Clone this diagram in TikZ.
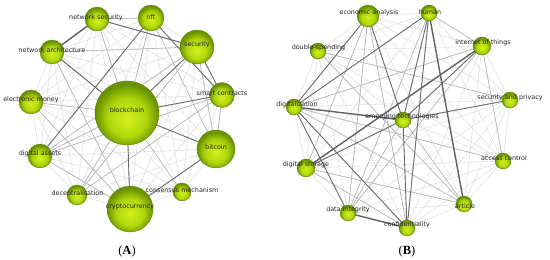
\documentclass[tikz,border=0pt]{standalone}
\usepackage{fontspec}
\setmainfont{Liberation Serif}
\newfontfamily\lblfont{DejaVu Sans}
\usetikzlibrary{backgrounds}
\definecolor{ballin}{RGB}{212,240,30}
\definecolor{ballmid}{RGB}{175,215,12}
\definecolor{ballout}{RGB}{105,145,0}
\definecolor{ballrim}{RGB}{85,122,0}
\definecolor{lbltext}{RGB}{35,35,35}
\pgfdeclareradialshading{ballshade}{\pgfpoint{0bp}{-5bp}}{color(0bp)=(ballin); color(15bp)=(ballmid); color(25bp)=(ballout); color(50bp)=(ballout)}
\tikzset{
  ball/.style={circle, shading=ballshade, draw=ballrim, line width=0.3pt, inner sep=0pt},
  lbl/.style={font=\lblfont\fontsize{6.4}{7}\selectfont, text=lbltext, inner sep=0pt},
  captext/.style={font=\fontsize{12.5}{14}\selectfont, inner sep=0pt},
  lite/.style={draw=gray!22, line width=0.4pt},
  mid/.style={draw=gray!58, line width=0.6pt},
  dark/.style={draw=black!58, line width=0.9pt},
  heavy/.style={draw=black!62, line width=1.4pt}
}
\begin{document}
\begin{tikzpicture}[x=1pt,y=-1pt]
\useasboundingbox (0,0) rectangle (550,260);
% ---------- Panel A nodes ----------
\node[ball, minimum size=24pt] (ns)  at (97,19)  {};
\node[ball, minimum size=26pt] (nft) at (151,18) {};
\node[ball, minimum size=34pt] (sec) at (197,47) {};
\node[ball, minimum size=24pt] (na)  at (52,52)  {};
\node[ball, minimum size=24pt] (em)  at (31,102) {};
\node[ball, minimum size=64pt] (bc)  at (127,113) {};
\node[ball, minimum size=25pt] (sc)  at (222,95) {};
\node[ball, minimum size=24pt] (da)  at (40,156) {};
\node[ball, minimum size=38pt] (btc) at (216,149) {};
\node[ball, minimum size=20pt] (dec) at (77,195) {};
\node[ball, minimum size=46pt] (cc)  at (130,209) {};
\node[ball, minimum size=18pt] (cm)  at (182,192) {};
% ---------- Panel B nodes ----------
\node[ball, minimum size=22pt] (ea)  at (368,16)  {};
\node[ball, minimum size=16pt] (hu)  at (429,13)  {};
\node[ball, minimum size=18pt] (iot) at (482,46)  {};
\node[ball, minimum size=16pt] (ds)  at (318,51)  {};
\node[ball, minimum size=16pt] (sp)  at (510,100) {};
\node[ball, minimum size=16pt] (dg)  at (294,107) {};
\node[ball, minimum size=16pt] (et)  at (403,120) {};
\node[ball, minimum size=18pt] (st)  at (306,168) {};
\node[ball, minimum size=16pt] (ac)  at (503,161) {};
\node[ball, minimum size=16pt] (di)  at (348,213) {};
\node[ball, minimum size=16pt] (ar)  at (464,204) {};
\node[ball, minimum size=16pt] (cf)  at (407,228) {};
% ---------- edges ----------
\begin{scope}[on background layer]
\foreach \a in {ns,nft,sec,na,em,bc,sc,da,btc,dec,cc,cm}
  \foreach \b in {ns,nft,sec,na,em,bc,sc,da,btc,dec,cc,cm}
    \draw[lite] (\a.center) -- (\b.center);
\foreach \a in {ea,hu,iot,ds,sp,dg,et,st,ac,di,ar,cf}
  \foreach \b in {ea,hu,iot,ds,sp,dg,et,st,ac,di,ar,cf}
    \draw[lite] (\a.center) -- (\b.center);
% A medium
\foreach \a/\b in {na/sec, em/bc, ns/bc, nft/bc, dec/bc, da/bc, em/cc, sc/da, dec/sc, dec/sec, ns/nft, na/cc, sec/btc, sc/btc, da/cc, cm/bc, nft/btc, ns/sec, sec/da, na/bc}
  \draw[mid] (\a.center) -- (\b.center);
% A dark
\foreach \a/\b in {ns/sec, nft/da, nft/sc, sec/bc, bc/sc, bc/btc, bc/cc, btc/cc, na/bc, sec/sc}
  \draw[dark] (\a.center) -- (\b.center);
\draw[heavy] (ns.center) -- (na.center);
% B medium
\foreach \a/\b in {dg/ac, dg/ar, iot/ac, ea/di, ds/ar, ds/sp, hu/di, et/di, et/ar, st/cf, iot/di, ea/cf, st/ar, iot/dg, ea/st, hu/iot}
  \draw[mid] (\a.center) -- (\b.center);
% B dark
\foreach \a/\b in {hu/dg, hu/et, hu/cf, iot/et, dg/ea, dg/cf, dg/di, ea/et, et/sp, et/st, et/cf}
  \draw[dark] (\a.center) -- (\b.center);
\foreach \a/\b in {hu/ar, iot/st, dg/et, di/cf}
  \draw[heavy] (\a.center) -- (\b.center);
\end{scope}
% ---------- labels A ----------
\node[lbl] (ns-l)  at (96,18)   {network security};
\node[lbl] (nft-l) at (151,17)  {nft};
\node[lbl] (sec-l) at (197,45)  {security};
\node[lbl] (na-l)  at (52,50)   {network architecture};
\node[lbl] (em-l)  at (31,100)  {electronic money};
\node[lbl] (bc-l)  at (127,110) {blockchain};
\node[lbl] (sc-l)  at (222,93)  {smart contracts};
\node[lbl] (da-l)  at (40,154)  {digital assets};
\node[lbl] (btc-l) at (216,147) {bitcoin};
\node[lbl] (dec-l) at (77.5,193) {decentralisation};
\node[lbl] (cm-l)  at (182,190) {consensus mechanism};
\node[lbl] (cc-l)  at (130,207) {cryptocurrency};
% ---------- labels B ----------
\node[lbl] (ea-l)  at (369,13)  {economic analysis};
\node[lbl] (hu-l)  at (430,12)  {human};
\node[lbl] (iot-l) at (483,43)  {internet of things};
\node[lbl] (ds-l)  at (318.5,48) {double-spending};
\node[lbl] (sp-l)  at (510,98)  {security and privacy};
\node[lbl] (dg-l)  at (297,105) {digitalization};
\node[lbl] (et-l)  at (402,117) {emerging technologies};
\node[lbl] (st-l)  at (306,165) {digital storage};
\node[lbl] (ac-l)  at (504,158) {access control};
\node[lbl] (di-l)  at (348,210) {data integrity};
\node[lbl] (ar-l)  at (465,206) {article};
\node[lbl] (cf-l)  at (407,225) {confidentiality};
% ---------- captions ----------
\node[captext] (capA) at (127,251) {(\textbf{A})};
\node[captext] (capB) at (407,251) {(\textbf{B})};
\end{tikzpicture}
\end{document}
